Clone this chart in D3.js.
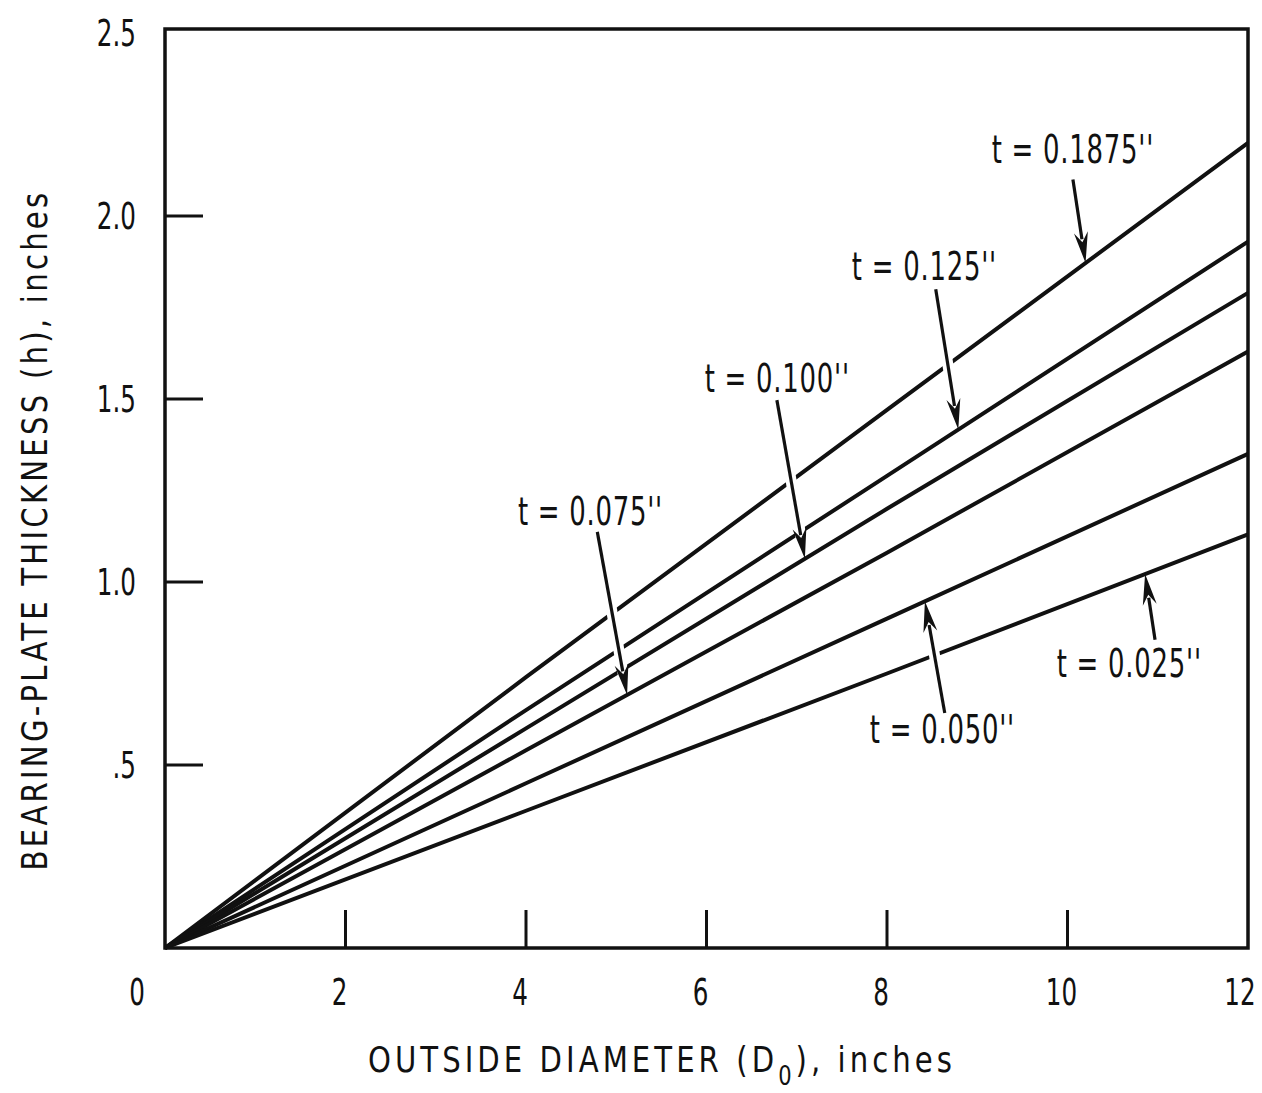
<!DOCTYPE html>
<html>
<head>
<meta charset="utf-8">
<script src="https://cdn.jsdelivr.net/npm/d3@7"></script>
<style>
  body { margin: 0; background: #fff; }
  text { font-family: "DejaVu Sans Condensed", "Liberation Sans", sans-serif; fill: #111; }
</style>
</head>
<body>
<div id="chart"></div>
<script>
// outside diameter (inches) where the curves were read
var diameters = [0, 4, 8, 12];

// bearing-plate thickness h (inches) for each sheet thickness t
var h01875 = [0, 0.74, 1.47, 2.20];
var h0125  = [0, 0.65, 1.29, 1.93];
var h0100  = [0, 0.60, 1.20, 1.79];
var h0075  = [0, 0.54, 1.08, 1.63];
var h0050  = [0, 0.45, 0.90, 1.35];
var h0025  = [0, 0.375, 0.75, 1.13];

var curveLabels = ["t = 0.1875''", "t = 0.125''", "t = 0.100''", "t = 0.075''", "t = 0.050''", "t = 0.025''"];

// label anchor, arrow tail (data units) and x where arrow hits its curve
var labelAt   = [[9.16, 2.145], [7.61, 1.825], [5.98, 1.52], [3.91, 1.156], [7.81, 0.56], [9.88, 0.74]];
var arrowTail = [[10.06, 2.10], [8.54, 1.80], [6.78, 1.497], [4.79, 1.137], [8.64, 0.642], [10.97, 0.842]];
var arrowTipX = [10.2, 8.79, 7.09, 5.12, 8.42, 10.86];

var xTicks = [0, 2, 4, 6, 8, 10, 12];
var xInnerTicks = [2, 4, 6, 8, 10];
var yTicks = [0.5, 1.0, 1.5, 2.0, 2.5];
var yInnerTicks = [0.5, 1.0, 1.5, 2.0];
var yTickLabels = [".5", "1.0", "1.5", "2.0", "2.5"];

var W = 1262, H = 1093;
var margin = { top: 29, right: 14, bottom: 145, left: 165 };

var x = d3.scaleLinear().domain([0, 12]).range([margin.left, W - margin.right]);
var y = d3.scaleLinear().domain([0, 2.5]).range([H - margin.bottom, 33]);

var svg = d3.select("#chart").append("svg")
    .attr("width", W)
    .attr("height", H);

// the original lettering is a tall, narrow face: squeeze horizontally
function narrow(sel, px, py, sx, rot) {
    return sel.attr("transform", "translate(" + px + "," + py + ")" +
        (rot ? " rotate(" + rot + ")" : "") + " scale(" + sx + ",1)");
}

var allSeries = [h01875, h0125, h0100, h0075, h0050, h0025];

var line = d3.line()
    .x(function (d, i) { return x(diameters[i]); })
    .y(function (d) { return y(d); });

// curves
svg.selectAll(".curve")
    .data(allSeries)
    .enter().append("path")
    .attr("class", "curve")
    .attr("d", line)
    .attr("fill", "none")
    .attr("stroke", "#111")
    .attr("stroke-width", 4)
    .attr("stroke-linejoin", "round");

// frame
svg.append("rect")
    .attr("x", x(0))
    .attr("y", margin.top)
    .attr("width", x(12) - x(0))
    .attr("height", y(0) - margin.top)
    .attr("fill", "none")
    .attr("stroke", "#111")
    .attr("stroke-width", 3.5);

// inner ticks
svg.selectAll(".xtick")
    .data(xInnerTicks)
    .enter().append("line")
    .attr("x1", function (d) { return x(d); })
    .attr("x2", function (d) { return x(d); })
    .attr("y1", y(0))
    .attr("y2", y(0) - 38)
    .attr("stroke", "#111")
    .attr("stroke-width", 3);

svg.selectAll(".ytick")
    .data(yInnerTicks)
    .enter().append("line")
    .attr("x1", x(0))
    .attr("x2", x(0) + 38)
    .attr("y1", function (d) { return y(d); })
    .attr("y2", function (d) { return y(d); })
    .attr("stroke", "#111")
    .attr("stroke-width", 3);

// tick labels
xTicks.forEach(function (d) {
    var px = d === 0 ? x(d) - 28 : (d === 12 ? x(d) - 8 : x(d) - 6);
    narrow(svg.append("text"), px, y(0) + 57, 0.74)
        .attr("text-anchor", "middle")
        .attr("font-size", 37)
        .text(d);
});

yTicks.forEach(function (d, i) {
    narrow(svg.append("text"), x(0) - 29, y(d) + 13, 0.74)
        .attr("text-anchor", "end")
        .attr("font-size", 37)
        .text(yTickLabels[i]);
});

// axis titles
var xt = narrow(svg.append("text"), 662, 1072, 0.9)
    .attr("text-anchor", "middle")
    .attr("font-size", 36)
    .attr("letter-spacing", 4.5);
xt.append("tspan").text("OUTSIDE DIAMETER (D");
xt.append("tspan").attr("dy", 13).attr("font-size", 26).text("0");
xt.append("tspan").attr("dy", -13).text("), inches");

narrow(svg.append("text"), 47, 530, 0.9, -90)
    .attr("text-anchor", "middle")
    .attr("font-size", 36)
    .attr("letter-spacing", 3.6)
    .text("BEARING-PLATE THICKNESS (h), inches");

// arrows with white halo where they cross other curves
function valueAt(series, xv) {
    var f = d3.scaleLinear().domain(diameters).range(series);
    return f(xv);
}

allSeries.forEach(function (s, i) {
    var tx = x(arrowTail[i][0]), ty = y(arrowTail[i][1]);
    var hx = x(arrowTipX[i]), hy = y(valueAt(s, arrowTipX[i]));
    var dx = hx - tx, dy = hy - ty, len = Math.sqrt(dx * dx + dy * dy);
    var ux = dx / len, uy = dy / len;
    var headLen = 28, headW = 7;
    var bx = hx - ux * headLen, by = hy - uy * headLen;

    // halo
    svg.append("line")
        .attr("x1", tx).attr("y1", ty)
        .attr("x2", hx - ux * 12).attr("y2", hy - uy * 12)
        .attr("stroke", "#fff")
        .attr("stroke-width", 11);

    svg.append("line")
        .attr("x1", tx).attr("y1", ty)
        .attr("x2", bx + ux * 4).attr("y2", by + uy * 4)
        .attr("stroke", "#111")
        .attr("stroke-width", 3.2);

    svg.append("path")
        .attr("d", "M" + hx + "," + hy +
            "L" + (bx - uy * headW - ux * 3) + "," + (by + ux * headW - uy * 3) +
            "L" + (bx + ux * 7) + "," + (by + uy * 7) +
            "L" + (bx + uy * headW - ux * 3) + "," + (by - ux * headW - uy * 3) + "Z")
        .attr("fill", "#111");

    narrow(svg.append("text"), x(labelAt[i][0]), y(labelAt[i][1]), 0.74)
        .attr("font-size", 39)
        .attr("letter-spacing", 1)
        .text(curveLabels[i]);
});
</script>
</body>
</html>
